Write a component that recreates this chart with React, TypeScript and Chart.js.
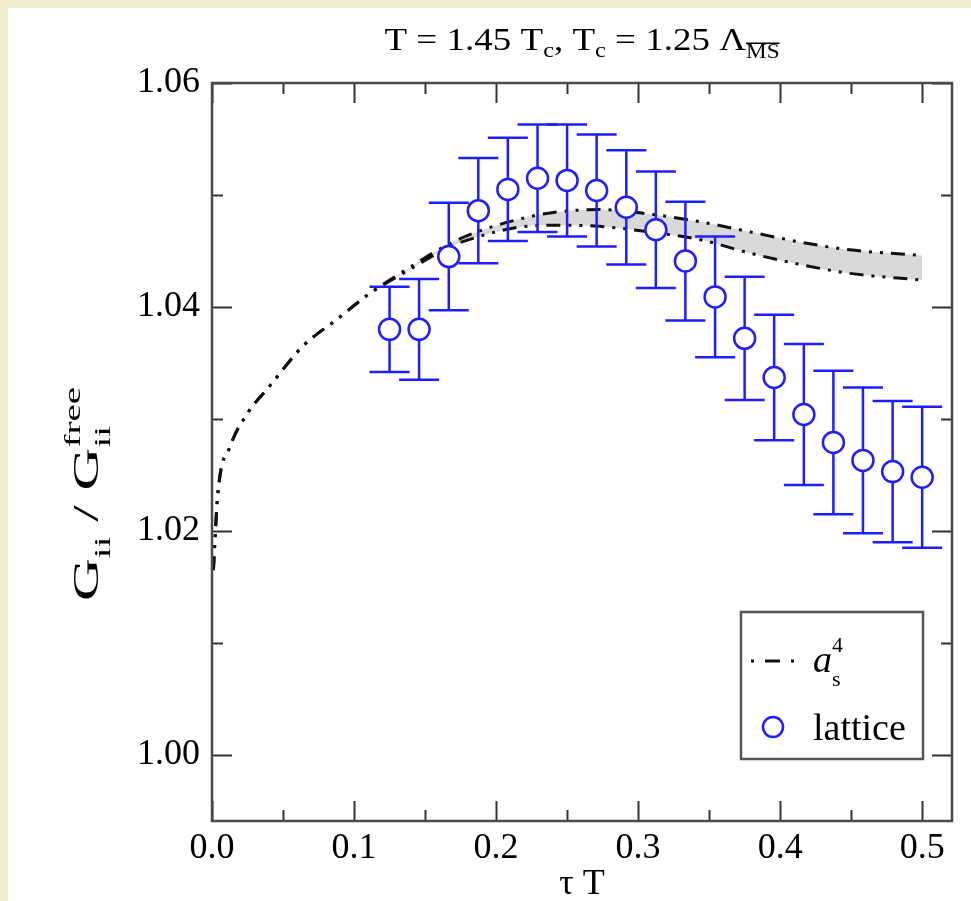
import React, { useEffect, useRef } from "react";
import { Chart, registerables } from "chart.js";

Chart.register(...registerables);

const CREAM = "#f3edd0";
const BLUE = "#1e1eff";
const FRAME = "#4a4a4a";
const SERIF = '"Liberation Serif", "Times New Roman", serif';

// lattice data (tau T, G/Gfree, error)
const latticeX = [0.125, 0.1458, 0.1667, 0.1875, 0.2083, 0.2292, 0.25, 0.2708, 0.2917, 0.3125, 0.3333, 0.3542, 0.375, 0.3958, 0.4167, 0.4375, 0.4583, 0.4792, 0.5];
const latticeY = [1.038, 1.038, 1.0445, 1.0486, 1.0505, 1.0515, 1.0513, 1.0504, 1.0489, 1.0469, 1.0441, 1.0409, 1.0372, 1.0337, 1.0304, 1.0279, 1.0263, 1.0253, 1.0248];
const latticeErr = [0.0038, 0.0045, 0.0048, 0.0047, 0.0046, 0.0048, 0.005, 0.005, 0.0051, 0.0052, 0.0053, 0.0054, 0.0055, 0.0056, 0.0063, 0.0064, 0.0065, 0.0063, 0.0063];

// a_s^4 band (upper and lower edges)
const curveX = [0.001, 0.004, 0.013, 0.025, 0.041, 0.064, 0.088, 0.111, 0.14, 0.168, 0.191, 0.215, 0.238, 0.273, 0.308, 0.344, 0.379, 0.414, 0.449, 0.5];
const curveUpper = [1.0165, 1.0232, 1.0276, 1.0305, 1.033, 1.0365, 1.0389, 1.0412, 1.0436, 1.0457, 1.0469, 1.0478, 1.0484, 1.0487, 1.0483, 1.0476, 1.0467, 1.0458, 1.0451, 1.0446];
const curveLower = [1.0165, 1.0232, 1.0276, 1.0305, 1.033, 1.0365, 1.0389, 1.0412, 1.0434, 1.0454, 1.0464, 1.0471, 1.0473, 1.0472, 1.0467, 1.046, 1.0448, 1.0438, 1.043, 1.0424];

const xTickValues = [0, 0.1, 0.2, 0.3, 0.4, 0.5];
const xMinorTicks = [0.05, 0.15, 0.25, 0.35, 0.45];
const yTickValues = [1.0, 1.02, 1.04, 1.06];
const yMinorTicks = [1.01, 1.03, 1.05];

const X_MIN = 0;
const X_MAX = 0.521;
const Y_MIN = 0.9941;
const Y_MAX = 1.06;

const CURVE_DASH = [14, 8, 3, 8, 3, 8];

type Seg = { t: string; size: number; dy?: number; italic?: boolean; overline?: boolean; stack?: { t: string; size: number; dy: number } };

function segFont(s: { size: number; italic?: boolean }) {
  return `${s.italic ? "italic " : ""}${s.size}px ${SERIF}`;
}

function drawSegs(
  ctx: CanvasRenderingContext2D,
  segs: Seg[],
  x: number,
  y: number,
  align: "center" | "left",
  targetWidth?: number
) {
  ctx.textBaseline = "alphabetic";
  ctx.textAlign = "left";
  const widths = segs.map((s) => {
    ctx.font = segFont(s);
    let w = ctx.measureText(s.t).width;
    if (s.stack) {
      ctx.font = segFont(s.stack);
      w = Math.max(w, ctx.measureText(s.stack.t).width);
    }
    return w;
  });
  const total = widths.reduce((a, b) => a + b, 0);
  const sx = targetWidth ? targetWidth / total : 1;
  ctx.save();
  const startX = align === "center" ? x - (total * sx) / 2 : x;
  ctx.translate(startX, 0);
  ctx.scale(sx, 1);
  let cx = 0;
  segs.forEach((s, i) => {
    ctx.font = segFont(s);
    const yy = y + (s.dy || 0);
    ctx.fillText(s.t, cx, yy);
    if (s.overline) {
      const w = ctx.measureText(s.t).width;
      ctx.save();
      ctx.lineWidth = 1.5;
      ctx.beginPath();
      ctx.moveTo(cx, yy - s.size * 0.74);
      ctx.lineTo(cx + w, yy - s.size * 0.74);
      ctx.stroke();
      ctx.restore();
    }
    if (s.stack) {
      ctx.font = segFont(s.stack);
      ctx.fillText(s.stack.t, cx, y + s.stack.dy);
    }
    cx += widths[i];
  });
  ctx.restore();
}

const decorPlugin = {
  id: "decor",
  beforeDatasetDraw(chart: any, args: any) {
    if (args.index !== 0) return;
    const { ctx } = chart;
    const xs = chart.scales.x;
    const ys = chart.scales.y;
    ctx.save();
    ctx.strokeStyle = BLUE;
    ctx.lineWidth = 2.5;
    latticeX.forEach((xv, i) => {
      const px = xs.getPixelForValue(xv);
      const top = ys.getPixelForValue(latticeY[i] + latticeErr[i]);
      const bot = ys.getPixelForValue(latticeY[i] - latticeErr[i]);
      ctx.beginPath();
      ctx.moveTo(px, top);
      ctx.lineTo(px, bot);
      ctx.moveTo(px - 20, top);
      ctx.lineTo(px + 20, top);
      ctx.moveTo(px - 20, bot);
      ctx.lineTo(px + 20, bot);
      ctx.stroke();
    });
    ctx.restore();
  },
  afterDraw(chart: any) {
    const { ctx, chartArea } = chart;
    const { left, right, top, bottom } = chartArea;
    const xs = chart.scales.x;
    const ys = chart.scales.y;
    ctx.save();
    // ticks
    ctx.strokeStyle = "#333";
    ctx.lineWidth = 2;
    const vt = (v: number, len: number) => {
      const px = Math.round(xs.getPixelForValue(v)) + 0.5;
      ctx.beginPath();
      ctx.moveTo(px, bottom);
      ctx.lineTo(px, bottom - len);
      ctx.moveTo(px, top);
      ctx.lineTo(px, top + len);
      ctx.stroke();
    };
    const ht = (v: number, len: number) => {
      const py = Math.round(ys.getPixelForValue(v)) + 0.5;
      ctx.beginPath();
      ctx.moveTo(left, py);
      ctx.lineTo(left + len, py);
      ctx.moveTo(right, py);
      ctx.lineTo(right - len, py);
      ctx.stroke();
    };
    xTickValues.forEach((v) => vt(v, 20));
    xMinorTicks.forEach((v) => vt(v, 11));
    yTickValues.forEach((v) => ht(v, 20));
    yMinorTicks.forEach((v) => ht(v, 11));
    // frame
    ctx.strokeStyle = FRAME;
    ctx.lineWidth = 2.5;
    ctx.strokeRect(left, top, right - left, bottom - top);

    ctx.fillStyle = "#000";
    ctx.strokeStyle = "#000";
    // title
    drawSegs(
      ctx,
      [
        { t: "T = 1.45 T", size: 32 },
        { t: "c", size: 21, dy: 7 },
        { t: ", T", size: 32 },
        { t: "c", size: 21, dy: 7 },
        { t: " = 1.25 \u039B", size: 32 },
        { t: "MS", size: 20, dy: 8, overline: true },
      ],
      (left + right) / 2,
      42,
      "center",
      395
    );
    // x title
    drawSegs(ctx, [{ t: "\u03C4 T", size: 36 }], (left + right) / 2, 886, "center");
    // y title
    ctx.save();
    ctx.translate(90, 486);
    ctx.rotate(-Math.PI / 2);
    drawSegs(
      ctx,
      [
        { t: "G", size: 35 },
        { t: "ii", size: 23, dy: 12 },
        { t: " / G", size: 35 },
        { t: "ii", size: 23, dy: 12, stack: { t: "free", size: 23, dy: -18 } },
      ],
      0,
      0,
      "center",
      214
    );
    ctx.restore();

    // legend
    const lx = 733, ly = 604, lw = 182, lh = 147;
    ctx.fillStyle = "#fff";
    ctx.fillRect(lx, ly, lw, lh);
    ctx.strokeStyle = "#555";
    ctx.lineWidth = 2.5;
    ctx.strokeRect(lx, ly, lw, lh);
    // line sample: dot dash dot
    ctx.strokeStyle = "#111";
    ctx.lineWidth = 3;
    ctx.beginPath();
    ctx.moveTo(743, 653);
    ctx.lineTo(746, 653);
    ctx.moveTo(757, 653);
    ctx.lineTo(772, 653);
    ctx.moveTo(783, 653);
    ctx.lineTo(786, 653);
    ctx.stroke();
    ctx.fillStyle = "#000";
    drawSegs(
      ctx,
      [
        { t: "a", size: 38, italic: true },
        { t: "s", size: 22, dy: 14, stack: { t: "4", size: 22, dy: -20 } },
      ],
      805,
      664,
      "left"
    );
    // circle sample
    ctx.strokeStyle = BLUE;
    ctx.lineWidth = 2.5;
    ctx.fillStyle = "#fff";
    ctx.beginPath();
    ctx.arc(765, 719, 10, 0, Math.PI * 2);
    ctx.fill();
    ctx.stroke();
    ctx.fillStyle = "#000";
    drawSegs(ctx, [{ t: "lattice", size: 38 }], 805, 732, "left");
    ctx.restore();
  },
};

export default function App() {
  const ref = useRef<HTMLCanvasElement | null>(null);
  useEffect(() => {
    document.body.style.background = CREAM;
    const canvas = ref.current;
    if (!canvas) return;
    const chart = new Chart(canvas, {
      type: "line",
      data: {
        datasets: [
          {
            label: "lattice",
            data: latticeX.map((x, i) => ({ x, y: latticeY[i] })),
            showLine: false,
            pointRadius: 10.5,
            pointBorderWidth: 2.5,
            pointBorderColor: BLUE,
            pointBackgroundColor: "#fff",
            pointHoverRadius: 10.5,
            fill: false,
          },
          {
            label: "a_s^4 upper",
            data: curveX.map((x, i) => ({ x, y: curveUpper[i] })),
            borderColor: "#111",
            borderWidth: 3,
            borderDash: CURVE_DASH,
            pointRadius: 0,
            cubicInterpolationMode: "monotone",
            fill: false,
          },
          {
            label: "a_s^4 lower",
            data: curveX.map((x, i) => ({ x, y: curveLower[i] })),
            borderColor: "#111",
            borderWidth: 3,
            borderDash: CURVE_DASH,
            pointRadius: 0,
            cubicInterpolationMode: "monotone",
            fill: 1,
            backgroundColor: "#d9d9d9",
          },
        ],
      },
      options: {
        responsive: false,
        animation: false,
        events: [],
        layout: { padding: { left: 0, top: 75, right: 19, bottom: 0 } },
        plugins: { legend: { display: false }, tooltip: { enabled: false }, title: { display: false } },
        scales: {
          x: {
            type: "linear",
            min: X_MIN,
            max: X_MAX,
            grid: { display: false, drawTicks: false },
            border: { display: false },
            afterBuildTicks: (s: any) => {
              s.ticks = xTickValues.map((v) => ({ value: v }));
            },
            afterFit: (s: any) => {
              s.height = 80;
            },
            ticks: {
              autoSkip: false,
              maxRotation: 0,
              padding: 6,
              color: "#000",
              font: { family: SERIF, size: 36 },
              callback: (v: any) => Number(v).toFixed(1),
            },
          },
          y: {
            type: "linear",
            min: Y_MIN,
            max: Y_MAX,
            grid: { display: false, drawTicks: false },
            border: { display: false },
            afterBuildTicks: (s: any) => {
              s.ticks = yTickValues.map((v) => ({ value: v }));
            },
            afterFit: (s: any) => {
              s.width = 204;
            },
            ticks: {
              autoSkip: false,
              padding: 12,
              color: "#000",
              font: { family: SERIF, size: 36 },
              callback: (v: any) => Number(v).toFixed(2),
            },
          },
        },
      },
      plugins: [decorPlugin],
    } as any);
    return () => chart.destroy();
  }, []);
  return (
    <div style={{ position: "absolute", left: 8, top: 8, width: 963, height: 893, background: "#fff" }}>
      <canvas ref={ref} width={963} height={893} style={{ display: "block", width: 963, height: 893 }} />
    </div>
  );
}
